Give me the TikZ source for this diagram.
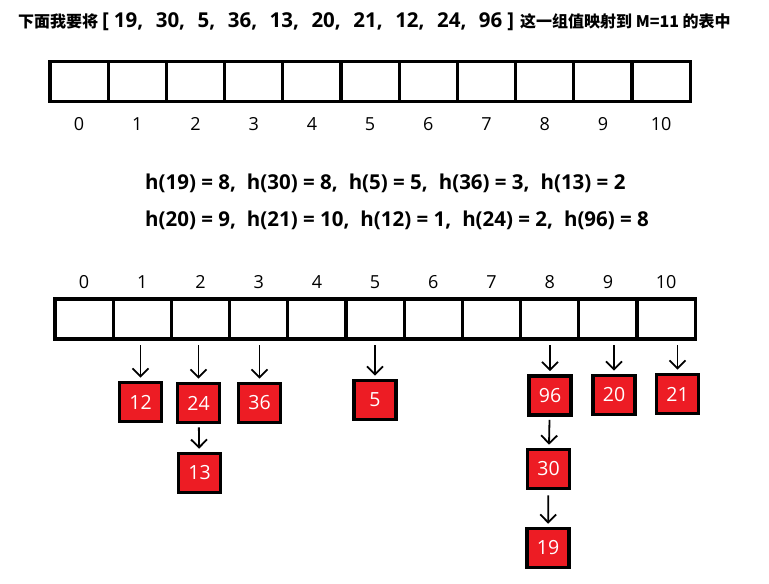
\documentclass[tikz,border=0pt]{standalone}
\usepackage{fontspec}
\setmainfont{Open Sans}
\newfontfamily\cjk{Noto Sans CJK SC}
\usetikzlibrary{arrows.meta,positioning}
\definecolor{boxred}{HTML}{ED1C24}
\newcommand\sep{,\hspace{11pt}}
\newcommand\numsep{,\hspace{12.5pt}}

\begin{document}
\begin{tikzpicture}[
  x=1pt,y=-1pt,
  cell/.style={draw,line width=3.2pt,minimum width=58.2pt,minimum height=40pt,
               inner sep=0pt,outer sep=0pt},
  idx/.style={font=\fontsize{18}{18}\selectfont,inner sep=0pt},
  hline/.style={font=\bfseries\fontsize{20.5}{20.5}\selectfont,anchor=west,inner sep=0pt},
  item/.style={draw,line width=3.6pt,fill=boxred,text=white,minimum width=42pt,
               minimum height=39pt,inner sep=0pt,font=\fontsize{19.5}{19.5}\selectfont},
  arr/.style={-{Straight Barb[length=8pt,width=16pt]},line width=1.8pt}
]
\useasboundingbox (0,0) rectangle (769,584);

\node[inner sep=0pt,anchor=west] (title) at (18,22) {{\cjk\bfseries\fontsize{16}{16}\selectfont 下面我要将}\hspace{4pt}%
  {\bfseries\fontsize{20.5}{20.5}\selectfont [\hspace{5pt}19\numsep 30\numsep 5\numsep 36\numsep 13\numsep 20\numsep 21\numsep 12\numsep 24\numsep 96\hspace{5pt}]}\hspace{6pt}%
  {\cjk\bfseries\fontsize{16}{16}\selectfont 这一组值映射到 M=11 的表中}};

% empty table
\foreach \i in {0,...,10} {
  \node[cell] (a\i) at (79.1+58.2*\i,81.5) {};
  \node[idx,below=16pt of a\i] (la\i) {\i};
}

\node[hline] (h1) at (145,183) {h(19) = 8\sep h(30) = 8\sep h(5) = 5\sep h(36) = 3\sep h(13) = 2};
\node[hline] (h2) at (145,220) {h(20) = 9\sep h(21) = 10\sep h(12) = 1\sep h(24) = 2\sep h(96) = 8};

% filled table
\foreach \i in {0,...,10} {
  \node[cell] (b\i) at (84.1+58.2*\i,319) {};
  \node[idx,above=10pt of b\i] (lb\i) {\i};
}

\node[item] (n12) at (140.5,402) {12};
\node[item] (n24) at (198.5,403) {24};
\node[item] (n36) at (259.5,403) {36};
\node[item] (n5)  at (375,400)   {5};
\node[item] (n13) at (199.5,473) {13};
\node[item] (n96) at (550,395.5) {96};
\node[item] (n20) at (614,395)   {20};
\node[item] (n21) at (677.5,394) {21};
\node[item] (n30) at (548.5,469) {30};
\node[item] (n19) at (548,548)   {19};

\draw[arr,shorten <=6pt,shorten >=3pt] (n12.north |- b1.south) -- (n12.north);
\draw[arr,shorten <=6pt,shorten >=3pt] (n24.north |- b2.south) -- (n24.north);
\draw[arr,shorten <=6pt,shorten >=3pt] (n36.north |- b3.south) -- (n36.north);
\draw[arr,shorten <=6pt,shorten >=3pt] (n5.north |- b5.south) -- (n5.north);
\draw[arr,shorten <=6pt,shorten >=3pt] (n96.north |- b8.south) -- (n96.north);
\draw[arr,shorten <=6pt,shorten >=3pt] (n20.north |- b9.south) -- (n20.north);
\draw[arr,shorten <=6pt,shorten >=3pt] (n21.north |- b10.south) -- (n21.north);
\draw[arr,shorten <=3pt,shorten >=3pt] (n24) -- (n13);
\draw[arr,shorten <=3pt,shorten >=3pt] (n96) -- (n30);
\draw[arr,shorten <=5pt,shorten >=3pt] (n30) -- (n19);
\end{tikzpicture}
\end{document}
